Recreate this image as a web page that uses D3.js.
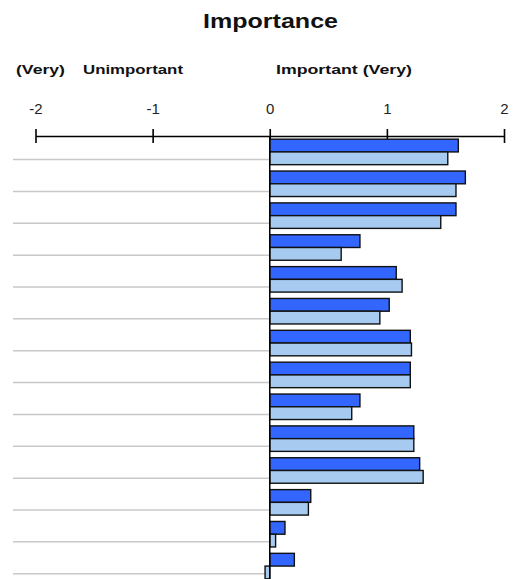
<!DOCTYPE html>
<html>
<head>
<meta charset="utf-8">
<script src="https://cdn.jsdelivr.net/npm/d3@7"></script>
<style>
  body { margin: 0; background: #fff; }
  text { font-family: "Liberation Sans", Arial, sans-serif; }
</style>
</head>
<body>
<div id="chart"></div>
<script>
// importance scores, two series per item
let categories = ['1', '2', '3', '4', '5', '6', '7', '8', '9', '10', '11', '12', '13', '14']
let seriesNames = ['dark', 'light']
let darkValues = [1.61, 1.67, 1.59, 0.77, 1.08, 1.02, 1.20, 1.20, 0.77, 1.23, 1.28, 0.35, 0.13, 0.21]
let lightValues = [1.52, 1.59, 1.46, 0.61, 1.13, 0.94, 1.21, 1.20, 0.70, 1.23, 1.31, 0.33, 0.05, -0.04]
let tickValues = [-2, -1, 0, 1, 2]

let width = 515
let height = 579
let colors = {dark: '#3366ff', light: '#a6caf0'}

let svg = d3.select('#chart')
    .append('svg')
    .attr('width', width)
    .attr('height', height)

let x = d3.scaleLinear()
    .domain([-2, 2])
    .range([35.5, 504])

let y = d3.scaleBand()
    .domain(categories)
    .range([136, 582])
    .paddingInner(0.2)
    .paddingOuter(0.1)

let ySub = d3.scaleBand()
    .domain(seriesNames)
    .range([0, y.bandwidth()])

let rows = categories.map((c, i) => ({cat: c, dark: darkValues[i], light: lightValues[i]}))

// title and side labels
svg.append('text')
    .attr('x', 203)
    .attr('y', 28)
    .attr('font-size', 20)
    .attr('font-weight', 'bold')
    .attr('textLength', 135).attr('lengthAdjust', 'spacingAndGlyphs')
    .attr('fill', '#111')
    .text('Importance')

svg.append('text')
    .attr('x', 16).attr('y', 74)
    .attr('font-size', 13).attr('font-weight', 'bold')
    .attr('textLength', 49).attr('lengthAdjust', 'spacingAndGlyphs')
    .attr('fill', '#111')
    .text('(Very)')
svg.append('text')
    .attr('x', 83).attr('y', 74)
    .attr('font-size', 13).attr('font-weight', 'bold')
    .attr('textLength', 100).attr('lengthAdjust', 'spacingAndGlyphs')
    .attr('fill', '#111')
    .text('Unimportant')
svg.append('text')
    .attr('x', 276).attr('y', 74)
    .attr('font-size', 13).attr('font-weight', 'bold')
    .attr('textLength', 136).attr('lengthAdjust', 'spacingAndGlyphs')
    .attr('fill', '#111')
    .text('Important (Very)')

// gray category lines on the left side
svg.selectAll('.cat-line')
    .data(categories)
    .enter()
    .append('line')
    .attr('class', 'cat-line')
    .attr('x1', 13)
    .attr('x2', x(0))
    .attr('y1', d => y(d) + y.bandwidth() * 0.8)
    .attr('y2', d => y(d) + y.bandwidth() * 0.8)
    .attr('stroke', '#c8c8c8')
    .attr('stroke-width', 1.5)

// top axis
let axis = svg.append('g')
    .attr('transform', 'translate(0,136)')
    .call(d3.axisTop(x).tickValues(tickValues).tickSize(0).tickPadding(0).tickFormat(d => String(d)))
axis.select('.domain').attr('stroke', '#000').attr('stroke-width', 1.5)
axis.selectAll('.tick text')
    .attr('y', -22)
    .attr('font-size', 15)
    .attr('fill', '#222')
    .attr('font-family', '"Liberation Sans", Arial, sans-serif')
axis.selectAll('.tick')
    .append('line')
    .attr('y1', -7)
    .attr('y2', 7)
    .attr('stroke', '#000')
    .attr('stroke-width', 1.6)

// bars
let groups = svg.selectAll('.group')
    .data(rows)
    .enter()
    .append('g')
    .attr('class', 'group')
    .attr('transform', d => `translate(0,${y(d.cat)})`)

groups.selectAll('rect')
    .data(d => seriesNames.map(s => ({key: s, value: d[s]})))
    .enter()
    .append('rect')
    .attr('x', d => x(Math.min(0, d.value)))
    .attr('y', d => ySub(d.key))
    .attr('width', d => Math.abs(x(d.value) - x(0)))
    .attr('height', ySub.bandwidth())
    .attr('fill', d => colors[d.key])
    .attr('stroke', '#111')
    .attr('stroke-width', 1.4)

// zero line
svg.append('line')
    .attr('x1', x(0)).attr('x2', x(0))
    .attr('y1', 136).attr('y2', height)
    .attr('stroke', '#000')
    .attr('stroke-width', 1.5)
</script>
</body>
</html>
